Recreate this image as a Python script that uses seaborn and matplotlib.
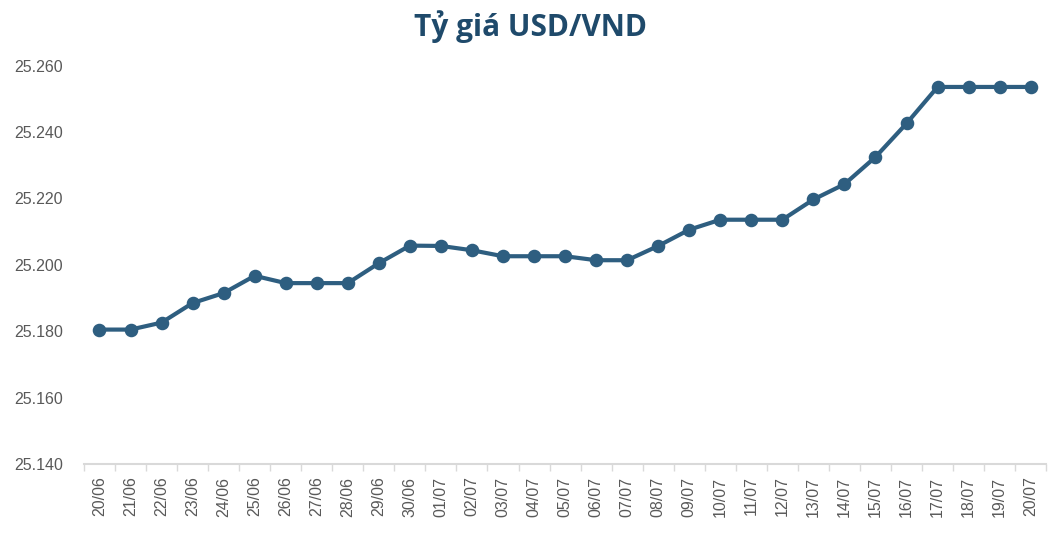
import numpy as np
import pandas as pd
import matplotlib
matplotlib.use("Agg")
import matplotlib.pyplot as plt
from matplotlib.ticker import FuncFormatter, FixedLocator
import seaborn as sns

dates = ["20/06", "21/06", "22/06", "23/06", "24/06", "25/06", "26/06", "27/06",
         "28/06", "29/06", "30/06", "01/07", "02/07", "03/07", "04/07", "05/07",
         "06/07", "07/07", "08/07", "09/07", "10/07", "11/07", "12/07", "13/07",
         "14/07", "15/07", "16/07", "17/07", "18/07", "19/07", "20/07"]
rates = [25180.5, 25180.5, 25182.6, 25188.5, 25191.5, 25196.7, 25194.5, 25194.5,
         25194.5, 25200.5, 25205.8, 25205.7, 25204.4, 25202.6, 25202.6, 25202.6,
         25201.4, 25201.4, 25205.7, 25210.6, 25213.6, 25213.6, 25213.6, 25219.7,
         25224.3, 25232.5, 25242.6, 25253.6, 25253.6, 25253.6, 25253.6]
y_ticks = [25140, 25160, 25180, 25200, 25220, 25240, 25260]
title = "Tỷ giá USD/VND"

line_color = "#2E5E80"
title_color = "#1F4A6B"
text_color = "#595959"

sns.set_theme(style="white")
plt.rcParams['font.family'] = ['Liberation Sans', 'DejaVu Sans']

df = pd.DataFrame({"date": dates, "rate": rates})

fig = plt.figure(figsize=(10.6, 5.36), dpi=100)
ax = fig.add_axes([0.0792, 0.1343, 0.9078, 0.7431])

sns.pointplot(data=df, x="date", y="rate", color=line_color, markers="o",
              markersize=7.5, linewidth=3, errorbar=None, ax=ax)

ax.set_xlim(-0.5, len(dates) - 0.5)
ax.set_ylim(y_ticks[0], y_ticks[-1])
ax.yaxis.set_major_locator(FixedLocator(y_ticks))
ax.yaxis.set_major_formatter(FuncFormatter(lambda v, p: f"{v:,.0f}".replace(",", ".")))

ax.set_xticks(np.arange(-0.5, len(dates), 1), minor=True)
ax.tick_params(axis="x", which="major", length=0, pad=9, labelrotation=90,
               labelsize=11.5, labelcolor=text_color)
ax.tick_params(axis="x", which="minor", length=5, width=1, color="#D9D9D9",
               direction="out", bottom=True)
ax.tick_params(axis="y", which="major", length=0, pad=15, labelsize=11.5,
               labelcolor=text_color)

for s in ["top", "right", "left"]:
    ax.spines[s].set_visible(False)
ax.spines["bottom"].set_color("#D9D9D9")
ax.spines["bottom"].set_linewidth(1.5)
ax.set_xlabel("")
ax.set_ylabel("")
ax.grid(False)

fig.text(0.5, 0.95, title, ha="center", va="center", fontsize=21.5,
         fontweight="bold", color=title_color, family=["Open Sans", "DejaVu Sans"])

fig.savefig("out.png", dpi=100)
